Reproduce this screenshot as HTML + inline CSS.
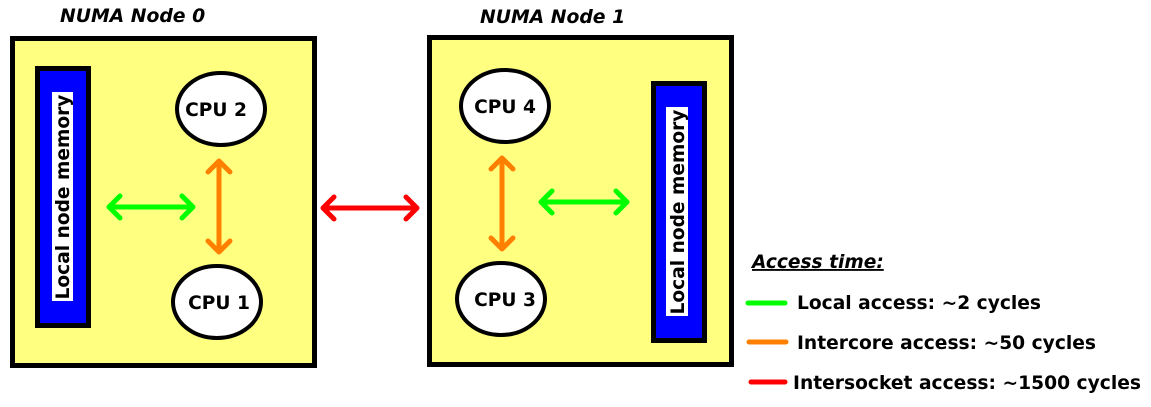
<!DOCTYPE html>
<html><head><meta charset="utf-8"><style>
html,body{margin:0;padding:0;background:#fff;width:1151px;height:407px;overflow:hidden}
svg{display:block}
text{font-family:"DejaVu Sans","Liberation Sans",sans-serif;font-weight:bold;fill:#000}
</style></head><body>
<svg width="1151" height="407" viewBox="0 0 1151 407" xmlns="http://www.w3.org/2000/svg">
<text x="60" y="22" font-size="18.8" font-style="italic">NUMA Node 0</text>
<text x="480" y="23" font-size="18.8" font-style="italic">NUMA Node 1</text>

<rect x="12.5" y="38.5" width="302" height="327" fill="#ffff80" stroke="#000" stroke-width="5"/>
<rect x="429.5" y="37.5" width="302" height="327" fill="#ffff80" stroke="#000" stroke-width="5"/>

<rect x="37.5" y="68.5" width="51" height="257" fill="#0000ff" stroke="#000" stroke-width="5"/>
<rect x="52" y="92" width="21" height="209" fill="#fff"/>
<text transform="translate(69,197) rotate(-90)" font-size="18.6" text-anchor="middle">Local node memory</text>

<rect x="653.5" y="83.5" width="51" height="257" fill="#0000ff" stroke="#000" stroke-width="5"/>
<rect x="666" y="107" width="22" height="209" fill="#fff"/>
<text transform="translate(684,212) rotate(-90)" font-size="18.6" text-anchor="middle">Local node memory</text>

<g fill="#fff" stroke="#000" stroke-width="4">
<ellipse cx="221" cy="109" rx="44" ry="36"/>
<ellipse cx="217" cy="302" rx="44" ry="36"/>
<ellipse cx="505" cy="106" rx="44" ry="36"/>
<ellipse cx="501" cy="299" rx="44" ry="36"/>
</g>
<g font-size="18.6" text-anchor="middle">
<text x="216" y="116">CPU 2</text>
<text x="219" y="309">CPU 1</text>
<text x="505" y="113">CPU 4</text>
<text x="505" y="306">CPU 3</text>
</g>

<g fill="none" stroke-width="5" stroke-linecap="round" stroke-linejoin="round">
<g stroke="#00ff00">
<path d="M109,207H193M120,196L109,207L120,218M182,196L193,207L182,218"/>
<path d="M541,202H627M552,191L541,202L552,213M616,191L627,202L616,213"/>
<path d="M748,303H785"/>
</g>
<g stroke="#ff8000">
<path d="M219,161V252M208,172L219,161L230,172M208,241L219,252L230,241"/>
<path d="M502,158V249M491,169L502,158L513,169M491,238L502,249L513,238"/>
<path d="M749,342H786"/>
</g>
<g stroke="#ff0000">
<path d="M323,208H417M334,197L323,208L334,219M406,197L417,208L406,219"/>
<path d="M751,382H785"/>
</g>
</g>

<text x="752" y="268" font-size="18.6" font-style="italic" text-decoration="underline">Access time:</text>
<g font-size="18.8">
<text x="797" y="309" textLength="244" lengthAdjust="spacingAndGlyphs">Local access: ~2 cycles</text>
<text x="797" y="349" textLength="299" lengthAdjust="spacingAndGlyphs">Intercore access: ~50 cycles</text>
<text x="793" y="389" textLength="348" lengthAdjust="spacingAndGlyphs">Intersocket access: ~1500 cycles</text>
</g>
</svg>
</body></html>
